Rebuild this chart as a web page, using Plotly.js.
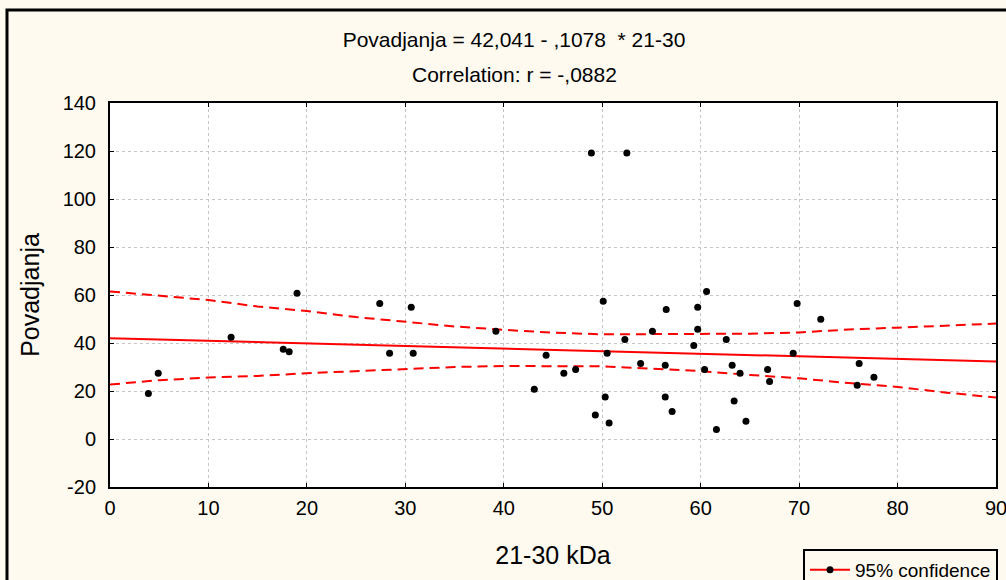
<!DOCTYPE html>
<html>
<head>
<meta charset="utf-8">
<script src="https://cdn.plot.ly/plotly-3.0.1.min.js"></script>
<style>
  html, body { margin: 0; padding: 0; background: #FEFAF0; }
  #chart { width: 1006px; height: 580px; }
</style>
</head>
<body>
<div id="chart"></div>
<script>
// Observed points: 21-30 kDa (x) vs Povadjanja (y)
var kda = [3.9, 4.9, 12.3, 17.6, 18.2, 19.0, 27.4, 28.4, 30.6, 30.8, 39.2, 43.1, 44.3, 46.1, 47.3, 48.9,
           49.3, 50.1, 50.3, 50.5, 50.7, 52.3, 52.5, 53.9, 55.1, 56.4, 56.4, 56.5, 57.1, 59.3, 59.7, 59.7,
           60.4, 60.6, 61.6, 62.6, 63.2, 63.4, 64.0, 64.6, 66.8, 67.0, 69.4, 69.8, 72.2, 75.9, 76.1, 77.6];
var povadjanja = [19.0, 27.4, 42.4, 37.4, 36.4, 60.7, 56.5, 35.7, 54.9, 35.7, 44.9, 20.7, 34.9, 27.4, 29.0, 119.2,
                  10.0, 57.4, 17.5, 35.7, 6.7, 41.5, 119.2, 31.5, 44.9, 30.7, 17.5, 54.0, 11.5, 39.0, 54.9, 45.7,
                  29.0, 61.5, 4.0, 41.5, 30.7, 15.8, 27.4, 7.4, 29.0, 24.0, 35.7, 56.5, 49.9, 22.4, 31.5, 25.7];

// Regression line endpoints
var fitX = [0, 90];
var fitY = [42.0, 32.3];

// 95% confidence bands
var bandX = [0, 5, 10, 15, 20, 25, 30, 35, 40, 45, 50, 55, 60, 65, 70, 75, 80, 85, 90];
var bandUpper = [61.5, 59.6, 57.9, 55.2, 53.3, 50.8, 49.0, 46.9, 45.5, 44.3, 43.6, 43.6, 43.6, 43.9, 44.4, 45.6, 46.4, 47.1, 48.1];
var bandLower = [22.7, 24.5, 25.6, 26.3, 27.4, 28.3, 29.3, 30.0, 30.4, 30.4, 30.3, 29.3, 28.3, 26.7, 25.3, 23.3, 21.7, 19.3, 17.3];

var xTicks = [0, 10, 20, 30, 40, 50, 60, 70, 80, 90];
var yTicks = [-20, 0, 20, 40, 60, 80, 100, 120, 140];

var titleLine1 = 'Povadjanja = 42,041 - ,1078  * 21-30';
var titleLine2 = 'Correlation: r = -,0882';
var legendName = '95% confidence';

var RED = '#FF0000';
var CREAM = '#FEFAF0';
var sans = '"Liberation Sans", Arial, sans-serif';

var traces = [
  { x: bandX, y: bandUpper, mode: 'lines', line: { color: RED, width: 2, dash: '10px,6px' }, showlegend: false, hoverinfo: 'skip' },
  { x: bandX, y: bandLower, mode: 'lines', line: { color: RED, width: 2, dash: '10px,6px' }, showlegend: false, hoverinfo: 'skip' },
  { x: fitX, y: fitY, mode: 'lines', line: { color: RED, width: 2 }, showlegend: false, hoverinfo: 'skip' },
  { x: kda, y: povadjanja, mode: 'markers', marker: { color: '#000', size: 7 }, showlegend: false },
  { x: [null], y: [null], mode: 'lines+markers', name: legendName,
    line: { color: RED, width: 2 }, marker: { color: '#000', size: 7 }, showlegend: true }
];

var axisCommon = {
  showline: true, linecolor: '#000', linewidth: 2, mirror: 'ticks',
  ticks: 'inside', ticklen: 4, tickwidth: 1, tickcolor: '#000',
  showgrid: true, gridcolor: '#C4C4C4', gridwidth: 1, griddash: 'dot',
  zeroline: false, tickfont: { family: sans, size: 20, color: '#000' },
  ticklabeloverflow: 'allow'
};

var layout = {
  width: 1006, height: 580,
  paper_bgcolor: CREAM, plot_bgcolor: '#FFFFFF',
  margin: { l: 110, r: 10, t: 103, b: 93, autoexpand: false },
  title: { text: titleLine1, font: { family: sans, size: 21, color: '#000' },
           x: 514 / 1006, xref: 'container', xanchor: 'center',
           y: 1 - 40 / 580, yref: 'container', yanchor: 'middle' },
  xaxis: Object.assign({}, axisCommon, {
    range: [0, 90], tickvals: xTicks, ticktext: xTicks.map(String), ticklabelstandoff: 2,
    title: { text: '21-30 kDa', font: { family: sans, size: 25, color: '#000' }, standoff: 28 }
  }),
  yaxis: Object.assign({}, axisCommon, {
    range: [-20, 140], tickvals: yTicks, ticktext: yTicks.map(String), ticklabelstandoff: 8,
    title: { text: 'Povadjanja', font: { family: sans, size: 25, color: '#000' }, standoff: 16 }
  }),
  annotations: [
    { text: titleLine2, xref: 'paper', yref: 'paper', x: (514 - 110) / 886, y: (487 - 75) / 384,
      xanchor: 'center', yanchor: 'middle', showarrow: false,
      font: { family: sans, size: 21, color: '#000' } }
  ],
  shapes: [
    { type: 'rect', xref: 'paper', yref: 'paper',
      x0: (7 - 110) / 886, x1: (1020 - 110) / 886, y0: (487 - 600) / 384, y1: (487 - 10) / 384,
      line: { color: '#000', width: 3 }, fillcolor: 'rgba(0,0,0,0)', layer: 'below' }
  ],
  showlegend: true,
  legend: {
    x: (803 - 110) / 886, xanchor: 'left', y: (487 - 549) / 384, yanchor: 'top',
    bgcolor: CREAM, bordercolor: '#000', borderwidth: 2, itemwidth: 40,
    font: { family: sans, size: 19, color: '#000' }
  }
};

Plotly.newPlot('chart', traces, layout, { displayModeBar: false, staticPlot: true });
</script>
</body>
</html>
